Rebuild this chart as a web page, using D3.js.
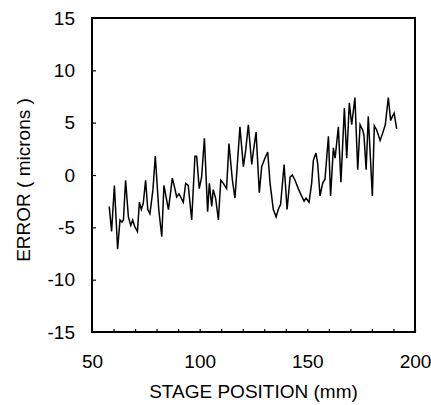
<!DOCTYPE html>
<html lang="en">
<head>
  <meta charset="UTF-8">
  <script src="https://d3js.org/d3.v7.min.js"></script>
  <style>
    body { margin: 0; background: #fff; }
    svg { display: block; }
    text { font-family: "Liberation Sans", Arial, Helvetica, sans-serif; }
  </style>
</head>
<body>
  <script>
    const positionMm = [
      58.0, 59.1, 60.4, 61.9, 63.0, 63.9, 64.6, 65.6, 66.9, 68.0,
      68.9, 69.8, 71.1, 72.0, 72.9, 73.8, 74.9, 75.9, 76.9, 78.3,
      79.4, 81.0, 82.4, 83.4, 84.4, 85.5, 87.3, 88.5, 89.3, 90.4,
      91.2, 92.4, 93.5, 94.7, 96.3, 97.8, 98.6, 99.8, 100.9, 102.2,
      103.7, 104.5, 105.6, 106.3, 107.4, 108.7, 109.8, 111.0, 112.5, 113.6,
      115.2, 116.4, 118.7, 120.3, 121.4, 122.6, 124.2, 124.9, 126.2, 127.7,
      128.8, 130.3, 131.6, 132.7, 134.2, 135.5, 136.5, 137.6, 139.2, 140.6,
      142.0, 143.0, 144.3, 145.8, 147.1, 148.5, 149.4, 150.8, 152.0, 152.8,
      154.0, 154.8, 155.9, 157.1, 158.2, 159.8, 160.8, 162.1, 162.9, 164.4,
      165.6, 167.2, 168.3, 169.5, 170.6, 172.1, 173.4, 174.5, 175.7, 176.3,
      177.3, 178.3, 180.2, 181.1, 182.2, 183.8, 185.0, 186.2, 187.6, 188.7,
      189.5, 190.3, 191.5
    ];
    const errorMicrons = [
      -3.0, -5.4, -1.0, -7.1, -4.3, -4.5, -4.3, -0.5, -4.0, -4.8,
      -4.3, -4.9, -5.4, -2.6, -3.3, -2.7, -0.5, -3.3, -3.7, -1.4,
      1.8, -3.3, -5.9, -1.0, -2.1, -3.3, -0.3, -1.3, -2.1, -1.8,
      -2.1, -2.6, -0.8, -1.0, -4.3, 1.8, 1.8, -1.3, -0.2, 3.5,
      -3.5, -0.8, -3.0, -1.4, -2.2, -4.3, -0.5, -0.8, -1.3, 3.0,
      -0.5, -2.2, 4.6, 0.8, 2.4, 4.8, 1.0, 2.2, 4.1, -1.7,
      0.8, 1.6, 2.2, -0.8, -3.3, -4.0, -3.3, -2.8, 1.0, -3.3,
      -0.2, 0.0, -0.5, -1.3, -1.9, -2.5, -2.2, -2.6, -0.8, 1.4,
      2.1, 1.1, -2.0, -0.8, -0.4, 3.7, -2.0, 2.6, 1.6, 4.6,
      -0.7, 6.4, 1.6, 6.9, 4.8, 7.4, 0.5, 4.8, 4.3, 3.8,
      0.5, 5.6, -2.0, 4.7, 4.3, 3.3, 4.0, 4.8, 7.4, 5.2,
      5.6, 5.9, 4.4
    ];
    const xTicks = d3.range(50, 201, 10);
    const xLabels = [50, 100, 150, 200];
    const yTicks = [-15, -10, -5, 0, 5, 10, 15];

    const width = 431;
    const height = 405;
    const margin = { top: 18, right: 16, bottom: 73, left: 92 };
    const innerW = width - margin.left - margin.right;
    const innerH = height - margin.top - margin.bottom;

    const svg = d3.select("body")
      .append("svg")
      .attr("width", width)
      .attr("height", height);

    const g = svg.append("g")
      .attr("transform", `translate(${margin.left},${margin.top})`);

    const x = d3.scaleLinear().domain([50, 200]).range([0, innerW]);
    const y = d3.scaleLinear().domain([-15, 15]).range([innerH, 0]);

    // x axis: ticks every 10 mm pointing inward, labels every 50
    const xAxis = g.append("g")
      .attr("transform", `translate(0,${innerH})`)
      .call(d3.axisBottom(x)
        .tickValues(xTicks)
        .tickSize(-3)
        .tickPadding(23)
        .tickFormat(d => xLabels.includes(d) ? String(d) : ""));

    // plain hyphen for negatives, as in the original
    const yAxis = g.append("g")
      .call(d3.axisLeft(y)
        .tickValues(yTicks)
        .tickSize(-4)
        .tickPadding(17)
        .tickFormat(d => String(d)));

    [xAxis, yAxis].forEach(a => {
      a.select(".domain").remove();
      a.selectAll("line").attr("stroke", "#000").attr("stroke-width", 1.2);
      a.selectAll("text").attr("font-size", 19).attr("fill", "#000")
        .style("font-family", "'Liberation Sans', Arial, sans-serif");
    });

    const points = positionMm.map((p, i) => [p, errorMicrons[i]]);
    const line = d3.line().x(d => x(d[0])).y(d => y(d[1]));

    g.append("path")
      .datum(points)
      .attr("fill", "none")
      .attr("stroke", "#000")
      .attr("stroke-width", 1.5)
      .attr("d", line);

    // frame
    g.append("rect")
      .attr("x", 0).attr("y", 0)
      .attr("width", innerW).attr("height", innerH)
      .attr("fill", "none")
      .attr("stroke", "#000")
      .attr("stroke-width", 2);

    svg.append("text")
      .attr("x", margin.left + innerW / 2)
      .attr("y", 398)
      .attr("text-anchor", "middle")
      .attr("font-size", 19)
      .text("STAGE POSITION (mm)");

    svg.append("text")
      .attr("transform", `translate(30,${margin.top + innerH / 2 + 5}) rotate(-90)`)
      .attr("text-anchor", "middle")
      .attr("font-size", 19)
      .text("ERROR ( microns )");
  </script>
</body>
</html>
